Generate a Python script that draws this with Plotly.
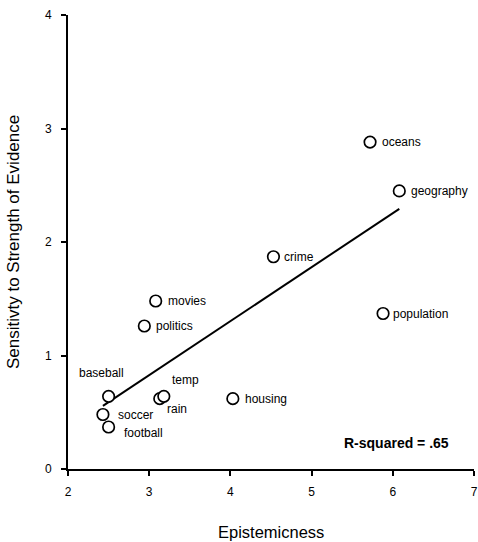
import numpy as np
import plotly.graph_objects as go

# ---- data ----
topics = ["baseball", "soccer", "football", "rain", "temp", "housing",
          "oceans", "geography", "crime", "population", "movies", "politics"]
epistemicness = [2.50, 2.43, 2.50, 3.13, 3.18, 4.03, 5.72, 6.08, 4.53, 5.88, 3.08, 2.94]
sensitivity = [0.64, 0.48, 0.37, 0.62, 0.64, 0.62, 2.88, 2.45, 1.87, 1.37, 1.48, 1.26]
x_ticks = [2, 3, 4, 5, 6, 7]
y_ticks = [0, 1, 2, 3, 4]
r_squared_label = "R-squared = .65"

# label placement (style only): xanchor, xshift, yshift in pixels
label_pos = {
    "baseball": ("center", -7, 23),
    "soccer": ("left", 13, 0),
    "football": ("left", 13, -6),
    "rain": ("left", 5, -10),
    "temp": ("left", 6, 16),
    "housing": ("left", 10, 0),
    "oceans": ("left", 10, 0),
    "geography": ("left", 10, 0),
    "crime": ("left", 9, 0),
    "population": ("left", 8, 0),
    "movies": ("left", 10, 0),
    "politics": ("left", 10, 0),
}

FONT = "Arial, Liberation Sans, sans-serif"

xs = np.array(epistemicness)
ys = np.array(sensitivity)
slope, intercept = np.polyfit(xs, ys, 1)
line_x = [xs.min(), xs.max()]
line_y = [intercept + slope * v for v in line_x]

fig = go.Figure()
fig.add_trace(go.Scatter(x=line_x, y=line_y, mode="lines",
                         line=dict(color="black", width=2), hoverinfo="skip",
                         showlegend=False))
fig.add_trace(go.Scatter(x=epistemicness, y=sensitivity, mode="markers",
                         marker=dict(symbol="circle", size=11.5, color="white",
                                     line=dict(color="black", width=1.7)),
                         text=topics, showlegend=False, cliponaxis=False))

for t, xv, yv in zip(topics, epistemicness, sensitivity):
    anc, dx, dy = label_pos[t]
    fig.add_annotation(x=xv, y=yv, xref="x", yref="y", text=t, showarrow=False,
                       xanchor=anc, yanchor="middle", xshift=dx, yshift=dy,
                       font=dict(family=FONT, size=12, color="black"))

fig.add_annotation(x=6.72, y=0.23, xref="x", yref="y", text="<b>%s</b>" % r_squared_label,
                   showarrow=False, xanchor="right", yanchor="middle",
                   font=dict(family=FONT, size=14, color="black"))

# axis titles
fig.add_annotation(x=0.5, y=0, xref="paper", yref="paper", text="Epistemicness",
                   showarrow=False, xanchor="center", yanchor="bottom", yshift=-73,
                   borderpad=0, font=dict(family=FONT, size=16.5, color="black"))
fig.add_annotation(x=0, y=0.5, xref="paper", yref="paper",
                   text="Sensitivty to Strength of Evidence", textangle=-90,
                   showarrow=False, xanchor="center", yanchor="middle", xshift=-55, yshift=0,
                   font=dict(family=FONT, size=17, color="black"))

axis_common = dict(showgrid=False, zeroline=False, showline=True, linecolor="black",
                   linewidth=2, ticks="outside", ticklen=5, tickwidth=2, automargin=False,
                   tickcolor="black", tickfont=dict(family=FONT, size=12, color="black"))
fig.update_xaxes(range=[2, 7], tickvals=x_ticks, ticklabelstandoff=6, **axis_common)
fig.update_yaxes(range=[0, 4], tickvals=y_ticks, ticklabelstandoff=7, **axis_common)

fig.update_layout(width=478, height=542, margin=dict(l=68, r=4, t=15, b=73),
                  plot_bgcolor="white", paper_bgcolor="white",
                  font=dict(family=FONT, color="black"))

# remove the default page margin so the figure fills the window exactly
fig.write_html("out.html", config={"displayModeBar": False},
               post_script="document.body.style.margin='0';")
